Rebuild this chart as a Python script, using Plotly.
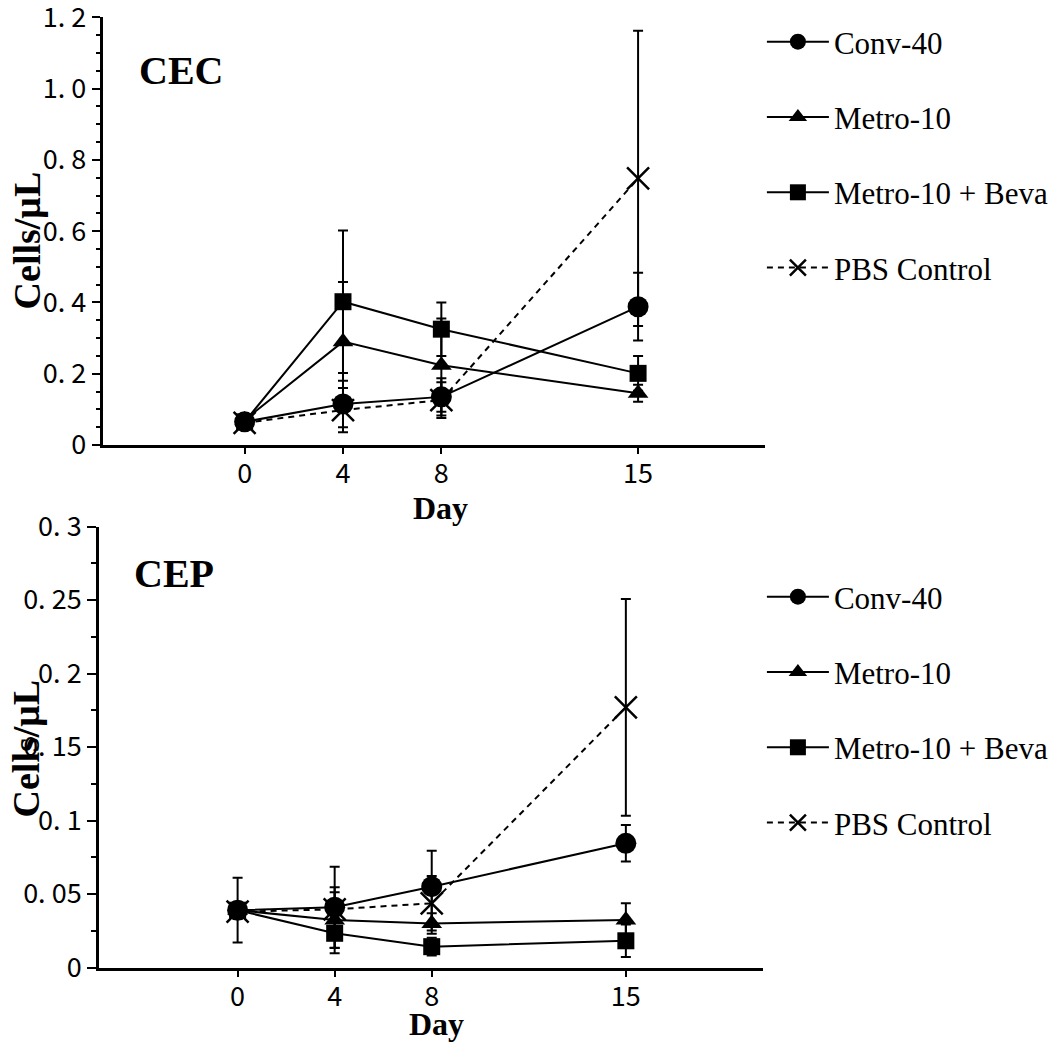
import plotly.graph_objects as go

# days; the source chart spaces day 15 as if it were day 16
days = ["0", "4", "8", "15"]
day_pos = [0, 4, 8, 16]

series = ["Conv-40", "Metro-10", "Metro-10 + Beva", "PBS Control"]

# CEC (cells/uL), mean and SD
cec_mean = {
    "Conv-40": [0.065, 0.115, 0.135, 0.388],
    "Metro-10": [0.070, 0.290, 0.224, 0.145],
    "Metro-10 + Beva": [0.065, 0.402, 0.325, 0.201],
    "PBS Control": [0.062, 0.098, 0.126, 0.748],
}
cec_sd = {
    "Conv-40": [0.005, 0.065, 0.052, 0.095],
    "Metro-10": [0.005, 0.167, 0.131, 0.024],
    "Metro-10 + Beva": [0.005, 0.200, 0.075, 0.049],
    "PBS Control": [0.005, 0.062, 0.050, 0.414],
}

# CEP (cells/uL), mean and SD
cep_mean = {
    "Conv-40": [0.039, 0.041, 0.055, 0.0845],
    "Metro-10": [0.039, 0.0323, 0.030, 0.0323],
    "Metro-10 + Beva": [0.039, 0.0233, 0.0142, 0.0182],
    "PBS Control": [0.038, 0.0396, 0.0437, 0.177],
}
cep_sd = {
    "Conv-40": [0.022, 0.0276, 0.0245, 0.0124],
    "Metro-10": [0.005, 0.019, 0.007, 0.0114],
    "Metro-10 + Beva": [0.005, 0.0136, 0.006, 0.011],
    "PBS Control": [0.005, 0.015, 0.0185, 0.0737],
}

cec_ticks = [0, 0.2, 0.4, 0.6, 0.8, 1.0, 1.2]
cec_ticktext = ["0", "0. 2", "0. 4", "0. 6", "0. 8", "1. 0", "1. 2"]
cep_ticks = [0, 0.05, 0.1, 0.15, 0.2, 0.25, 0.3]
cep_ticktext = ["0", "0. 05", "0. 1", "0. 15", "0. 2", "0. 25", "0. 3"]

styles = {
    "Conv-40": dict(symbol="circle", size=21, dash="solid"),
    "Metro-10": dict(symbol="triangle-up", size=18, dash="solid"),
    "Metro-10 + Beva": dict(symbol="square", size=17, dash="solid"),
    "PBS Control": dict(symbol="x-thin", size=22, dash="6px,5px"),
}

GOTHIC = "Noto Sans CJK JP, sans-serif"
SERIF = "Liberation Serif"

# page body has an 8px margin, so the figure is 8px smaller than the window
W, H = 1055, 1036

fig = go.Figure()

for panel, (means, sds) in enumerate([(cec_mean, cec_sd), (cep_mean, cep_sd)]):
    xa = "x" if panel == 0 else "x2"
    ya = "y" if panel == 0 else "y2"
    leg = "legend" if panel == 0 else "legend2"
    for name in series:
        st = styles[name]
        fig.add_trace(go.Scatter(
            x=day_pos, y=means[name], name=name, xaxis=xa, yaxis=ya,
            legend=leg, legendgroup=f"{panel}-{name}",
            mode="lines+markers",
            line=dict(color="black", width=2, dash=st["dash"]),
            marker=dict(symbol=st["symbol"], size=st["size"], color="black",
                        line=dict(color="black", width=2.5 if name == "PBS Control" else 0)),
            error_y=dict(type="data", array=sds[name], color="black", thickness=2, width=5),
            cliponaxis=False,
        ))

xcommon = dict(
    tickvals=day_pos, ticktext=days, showline=True, linecolor="black", linewidth=3,
    ticks="outside", ticklen=6, tickwidth=2, tickcolor="black", showgrid=False, zeroline=False,
    automargin=False, ticklabelstandoff=-3, tickfont=dict(family=GOTHIC, size=27, color="black"),
)
ycommon = dict(
    showline=True, linecolor="black", linewidth=3, ticks="outside", tickwidth=2,
    tickcolor="black", showgrid=False, zeroline=False, automargin=False,
    ticklabeloverflow="allow", tickfont=dict(family=GOTHIC, size=27, color="black"),
)

legend_common = dict(xanchor="left", yanchor="top", traceorder="grouped",
                     tracegroupgap=32, itemwidth=62, bgcolor="rgba(0,0,0,0)",
                     font=dict(family=SERIF, size=31, color="black"))


def label(text, x, y, size, angle=0, anchor="center"):
    return dict(text=text, x=x, y=y, xref="paper", yref="paper", textangle=angle,
                xanchor=anchor, yanchor="middle", showarrow=False, borderpad=0,
                font=dict(family=SERIF, size=size, color="black"))


fig.update_layout(
    width=W, height=H, margin=dict(l=0, r=0, t=0, b=0),
    paper_bgcolor="white", plot_bgcolor="white",
    xaxis=dict(xcommon, domain=[0.0898, 0.7175], range=[-5.77, 21.16], anchor="y"),
    yaxis=dict(ycommon, domain=[0.5782, 0.9910], range=[0, 1.2], anchor="x",
               tickvals=cec_ticks, ticktext=cec_ticktext, ticklen=8,
               minor=dict(dtick=0.05, ticks="outside", ticklen=4, tickwidth=2, tickcolor="black")),
    xaxis2=dict(xcommon, domain=[0.0863, 0.7156], range=[-5.71, 21.65], anchor="y2"),
    yaxis2=dict(ycommon, domain=[0.0738, 0.4995], range=[0, 0.3], anchor="x2",
                tickvals=cep_ticks, ticktext=cep_ticktext, ticklen=9,
                minor=dict(dtick=0.025, ticks="outside", ticklen=5, tickwidth=2, tickcolor="black")),
    legend=dict(legend_common, x=0.7146, y=0.9932),
    legend2=dict(legend_common, x=0.7146, y=0.4575),
    annotations=[
        label("<b>CEC</b>", 0.1232, 0.9392, 40, anchor="left"),
        label("<b>CEP</b>", 0.1185, 0.4542, 40, anchor="left"),
        label("<b>Day</b>", 0.4104, 0.5174, 32),
        label("<b>Day</b>", 0.4057, 0.0193, 32),
        label("<b>Cells/μL</b>", 0.0175, 0.7761, 38, angle=-90),
        label("<b>Cells/μL</b>", 0.0175, 0.2857, 38, angle=-90),
    ],
)

fig.write_html("out.html")
